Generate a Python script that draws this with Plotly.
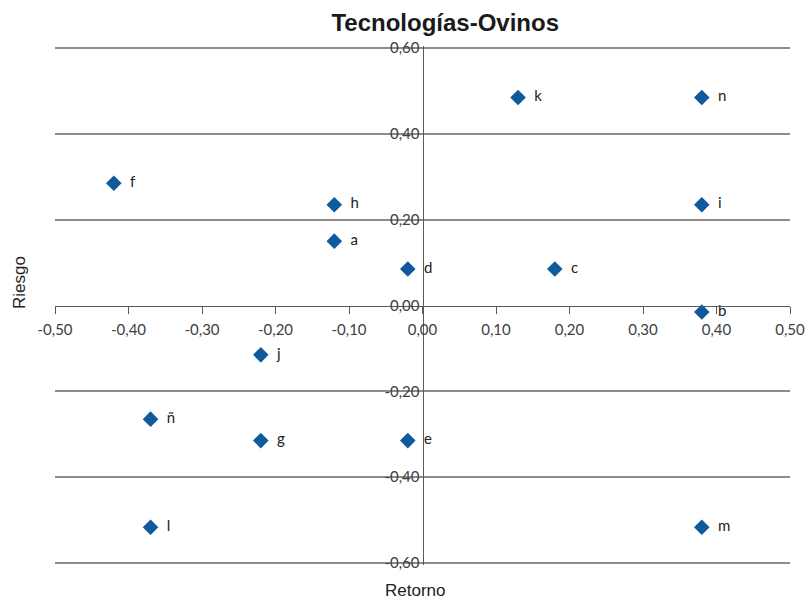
import plotly.graph_objects as go

labels = ["a", "b", "c", "d", "e", "f", "g", "h", "i", "j", "k", "l", "m", "n", "ñ"]
retorno = [-0.12, 0.38, 0.18, -0.02, -0.02, -0.42, -0.22, -0.12, 0.38, -0.22, 0.13, -0.37, 0.38, 0.38, -0.37]
riesgo = [0.15, -0.015, 0.085, 0.085, -0.315, 0.285, -0.315, 0.235, 0.235, -0.115, 0.485, -0.517, -0.517, 0.485, -0.265]

x_ticks = [-0.5, -0.4, -0.3, -0.2, -0.1, 0.0, 0.1, 0.2, 0.3, 0.4, 0.5]
y_ticks = [-0.6, -0.4, -0.2, 0.0, 0.2, 0.4, 0.6]
grid_vals = [-0.6, -0.4, -0.2, 0.2, 0.4, 0.6]

def fmt(v):
    return f"{v:.2f}".replace(".", ",")

tick_font = dict(family="Lato, Carlito, 'Open Sans', sans-serif", size=15, color="#404040")
yr = [-0.605, 0.605]

fig = go.Figure()
fig.add_trace(go.Scatter(x=[0], y=[0], yaxis="y2", mode="markers",
                         marker=dict(opacity=0), showlegend=False, hoverinfo="skip"))
fig.add_trace(go.Scatter(
    x=retorno, y=riesgo, mode="markers+text", text=labels,
    texttemplate="  %{text}", textposition="middle right",
    textfont=dict(family="Lato, sans-serif", size=15, color="#222222"),
    marker=dict(symbol="diamond", size=12, color="#0f5a9c", line=dict(width=0)),
    showlegend=False, cliponaxis=False))

fig.update_layout(
    width=808, height=600,
    margin=dict(l=55, r=18, t=46, b=35, autoexpand=False),
    paper_bgcolor="white", plot_bgcolor="white",
    title=dict(text="<b>Tecnologías-Ovinos</b>", x=0.551, xanchor="center",
               y=0.963, yanchor="middle", xref="container", yref="container",
               font=dict(family="Liberation Sans, Arial, sans-serif", size=24, color="#1a1a1a")),
    xaxis=dict(range=[-0.5, 0.5], tickvals=x_ticks, ticktext=[fmt(v) for v in x_ticks],
               showgrid=False, zeroline=False, showline=True, linecolor="#595959", linewidth=1,
               ticks="outside", ticklen=7, tickcolor="#595959", ticklabelstandoff=3,
               anchor="free", position=0.5, tickfont=tick_font, automargin=False),
    yaxis=dict(range=yr, tickvals=y_ticks, ticktext=[fmt(v) for v in y_ticks],
               showgrid=False, zeroline=False, showline=True, linecolor="#595959", linewidth=1,
               ticks="", anchor="free", position=0.5, tickfont=tick_font, automargin=False),
    yaxis2=dict(range=yr, overlaying="y", tickvals=grid_vals, showticklabels=False,
                showgrid=True, gridcolor="#8c8c8c", gridwidth=2, zeroline=False, showline=False,
                anchor="x", side="left", layer="below traces", automargin=False),
    annotations=[
        dict(text="Retorno", x=0.5 - 8/735, y=(565-590)/519, xref="paper", yref="paper",
             xanchor="center", yanchor="middle", showarrow=False,
             font=dict(family="Liberation Sans, Arial, sans-serif", size=17, color="#222222")),
        dict(text="Riesgo", x=-36/735, y=(565-283)/519, xref="paper", yref="paper",
             xanchor="center", yanchor="middle", showarrow=False, textangle=-90,
             font=dict(family="Liberation Sans, Arial, sans-serif", size=17, color="#222222")),
    ],
)

fig.write_html("out.html")
